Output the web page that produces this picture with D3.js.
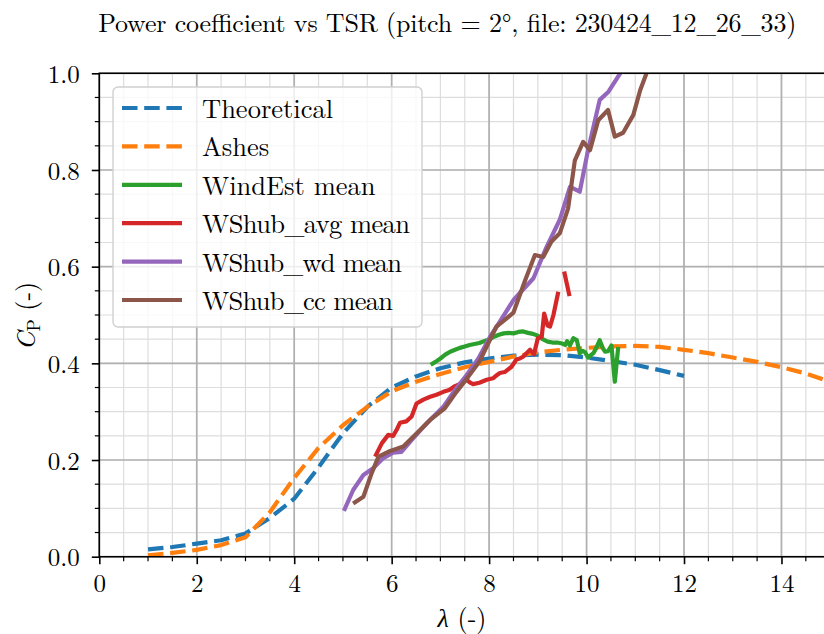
<!DOCTYPE html>
<html>
<head>
<meta charset="utf-8">
<script src="https://cdn.jsdelivr.net/npm/d3@7"></script>
<style>
  body { margin: 0; background: #fff; }
</style>
</head>
<body>
<svg id="chart" width="824" height="634"></svg>
<script>
/* -------------------------------------------------------------------------- */
// data (lambda = TSR, cp = power coefficient)

const theoreticalX = [1, 1.5, 2, 2.5, 3, 3.5, 4, 4.5, 5, 5.5, 6, 6.5, 7, 7.5, 8, 8.5, 9, 9.5, 10, 10.5, 11, 11.5, 12];
const theoreticalY = [0.015, 0.02, 0.027, 0.034, 0.048, 0.08, 0.12, 0.185, 0.255, 0.31, 0.35, 0.373, 0.39, 0.402, 0.41, 0.416, 0.418, 0.417, 0.412, 0.405, 0.397, 0.386, 0.374];

const ashesX = [1, 1.5, 2, 2.5, 3, 3.5, 4, 4.5, 5, 5.5, 6, 6.5, 7, 7.5, 8, 8.5, 9, 9.5, 10, 10.5, 11, 11.5, 12, 12.5, 13, 13.5, 14, 14.5, 15];
const ashesY = [0.003, 0.008, 0.014, 0.024, 0.04, 0.092, 0.163, 0.225, 0.272, 0.31, 0.342, 0.362, 0.378, 0.392, 0.403, 0.414, 0.423, 0.428, 0.432, 0.435, 0.436, 0.434, 0.428, 0.421, 0.412, 0.403, 0.392, 0.379, 0.362];

const windEstX = [6.8, 6.9, 7.0, 7.1, 7.2, 7.3, 7.4, 7.5, 7.6, 7.7, 7.8, 7.9, 8.0, 8.1, 8.2, 8.3, 8.4, 8.5, 8.6, 8.7, 8.8, 8.9, 9.0, 9.1, 9.2, 9.3, 9.4, 9.5, 9.56, 9.6, 9.66, 9.73, 9.8, 9.86, 9.92, 9.97, 10.03, 10.1, 10.14, 10.2, 10.27, 10.33, 10.38, 10.44, 10.51, 10.58, 10.65];
const windEstY = [0.397, 0.403, 0.41, 0.418, 0.424, 0.428, 0.432, 0.435, 0.438, 0.44, 0.442, 0.446, 0.449, 0.455, 0.459, 0.462, 0.463, 0.462, 0.465, 0.466, 0.463, 0.461, 0.457, 0.45, 0.445, 0.443, 0.443, 0.441, 0.438, 0.446, 0.437, 0.452, 0.448, 0.421, 0.426, 0.423, 0.412, 0.418, 0.421, 0.432, 0.448, 0.432, 0.424, 0.425, 0.437, 0.362, 0.434];

const wsAvgX = [5.66, 5.8, 5.93, 6.03, 6.1, 6.17, 6.3, 6.41, 6.51, 6.65, 6.79, 6.92, 7.06, 7.18, 7.3, 7.44, 7.54, 7.61, 7.67, 7.8, 7.95, 8.08, 8.15, 8.22, 8.32, 8.46, 8.56, 8.63, 8.7, 8.84, 8.92, 9.0, 9.08, 9.13, 9.2, 9.25, 9.32, 9.42, 9.48, 9.54, 9.65];
const wsAvgY = [0.207, 0.235, 0.252, 0.25, 0.262, 0.277, 0.28, 0.29, 0.317, 0.325, 0.331, 0.335, 0.341, 0.345, 0.353, 0.359, 0.366, 0.36, 0.357, 0.36, 0.366, 0.369, 0.375, 0.38, 0.382, 0.393, 0.408, 0.41, 0.414, 0.428, 0.419, 0.452, 0.455, 0.503, 0.478, 0.476, 0.5, 0.548, null, 0.59, 0.539];

const wsWdX = [5.02, 5.21, 5.42, 5.62, 5.83, 6.03, 6.2, 6.44, 6.72, 7.06, 7.3, 7.54, 7.78, 8.02, 8.22, 8.5, 8.91, 9.18, 9.45, 9.66, 9.86, 10.03, 10.27, 10.45, 10.69, 10.8];
const wsWdY = [0.095, 0.138, 0.169, 0.183, 0.204, 0.215, 0.217, 0.245, 0.276, 0.31, 0.345, 0.376, 0.41, 0.455, 0.486, 0.531, 0.576, 0.641, 0.697, 0.765, 0.755, 0.841, 0.945, 0.962, 1.0, 1.03];

const wsCcX = [5.21, 5.42, 5.59, 5.73, 5.93, 6.24, 6.51, 6.79, 7.09, 7.33, 7.57, 7.81, 7.98, 8.15, 8.36, 8.5, 8.74, 8.94, 9.11, 9.28, 9.45, 9.62, 9.76, 9.93, 10.07, 10.24, 10.44, 10.58, 10.75, 10.96, 11.1, 11.23, 11.3];
const wsCcY = [0.11, 0.124, 0.173, 0.207, 0.217, 0.228, 0.255, 0.283, 0.307, 0.341, 0.372, 0.405, 0.441, 0.476, 0.493, 0.505, 0.572, 0.624, 0.62, 0.652, 0.669, 0.72, 0.82, 0.858, 0.841, 0.903, 0.924, 0.869, 0.877, 0.914, 0.965, 1.0, 1.02];

const seriesNames = ['Theoretical', 'Ashes', 'WindEst mean', 'WShub_avg mean', 'WShub_wd mean', 'WShub_cc mean'];
const seriesColors = ['#1f77b4', '#ff7f0e', '#2ca02c', '#d62728', '#9467bd', '#8c564b'];
const seriesDashed = [true, true, false, false, false, false];

const xTicks = [0, 2, 4, 6, 8, 10, 12, 14];
const yTicks = [0.0, 0.2, 0.4, 0.6, 0.8, 1.0];

/* -------------------------------------------------------------------------- */
const FONT = '"Latin Modern Roman", "Liberation Serif", serif';

let svg = d3.select('#chart');

let margin = {left: 99.3, top: 73.3, bottom: 556.7};
let x = d3.scaleLinear().domain([0, 15]).range([margin.left, 830.2]);
let y = d3.scaleLinear().domain([0, 1]).range([margin.bottom, margin.top]);

let plotW = x(15) - x(0),
    plotH = y(0) - y(1);

function zip(xs, ys) {
  return xs.map((v, i) => ({x: v, y: ys[i]}));
}

let series = [
  zip(theoreticalX, theoreticalY),
  zip(ashesX, ashesY),
  zip(windEstX, windEstY),
  zip(wsAvgX, wsAvgY),
  zip(wsWdX, wsWdY),
  zip(wsCcX, wsCcY)
];

// the latex underscore is narrower than the font glyph, squeeze the spacing a bit
function fitWidth(sel, w) {
  let len = sel.node().getComputedTextLength();
  if (len > w) sel.attr('textLength', w).attr('lengthAdjust', 'spacing');
  return sel;
}

/* -------------------------------------------------------------------------- */
// grid

svg.append('defs').append('clipPath').attr('id', 'plotclip')
   .append('rect')
   .attr('x', x(0)).attr('y', y(1))
   .attr('width', plotW).attr('height', plotH);

let grid = svg.append('g');

grid.selectAll('.xminor').data(d3.range(0, 15.01, 0.5))
  .enter().append('line')
  .attr('x1', d => x(d)).attr('x2', d => x(d))
  .attr('y1', y(0)).attr('y2', y(1))
  .attr('stroke', '#dddddd').attr('stroke-width', 1.2);

grid.selectAll('.yminor').data(d3.range(0, 1.001, 0.05))
  .enter().append('line')
  .attr('x1', x(0)).attr('x2', x(15))
  .attr('y1', d => y(d)).attr('y2', d => y(d))
  .attr('stroke', '#dddddd').attr('stroke-width', 1.2);

grid.selectAll('.xmajor').data(xTicks)
  .enter().append('line')
  .attr('x1', d => x(d)).attr('x2', d => x(d))
  .attr('y1', y(0)).attr('y2', y(1))
  .attr('stroke', '#b0b0b0').attr('stroke-width', 1.7);

grid.selectAll('.ymajor').data(yTicks)
  .enter().append('line')
  .attr('x1', x(0)).attr('x2', x(15))
  .attr('y1', d => y(d)).attr('y2', d => y(d))
  .attr('stroke', '#b0b0b0').attr('stroke-width', 1.7);

/* -------------------------------------------------------------------------- */
// curves

let line = d3.line()
  .defined(d => d.y != null)
  .x(d => x(d.x))
  .y(d => y(d.y));

let curves = svg.append('g').attr('clip-path', 'url(#plotclip)');

series.forEach(function (s, i) {
  curves.append('path')
    .datum(s)
    .attr('d', line)
    .attr('fill', 'none')
    .attr('stroke', seriesColors[i])
    .attr('stroke-width', 4.2)
    .attr('stroke-linejoin', 'round')
    .attr('stroke-dasharray', seriesDashed[i] ? '15.5,6.7' : null);
});

/* -------------------------------------------------------------------------- */
// axes

let xAxis = d3.axisBottom(x).tickValues(xTicks).tickSize(7.5).tickPadding(10)
              .tickFormat(d3.format('d'));
let yAxis = d3.axisLeft(y).tickValues(yTicks).tickSize(7.5).tickPadding(12)
              .tickFormat(d3.format('.1f'));

let gx = svg.append('g').attr('transform', `translate(0,${y(0)})`).call(xAxis);
let gy = svg.append('g').attr('transform', `translate(${x(0)},0)`).call(yAxis);

[gx, gy].forEach(function (g) {
  g.attr('font-family', FONT).attr('font-size', 25);
  g.select('.domain').remove();
  g.selectAll('line').attr('stroke', '#000').attr('stroke-width', 1.6);
  g.selectAll('text').attr('fill', '#000');
});
gy.selectAll('text').attr('dy', '0.37em');

// minor ticks
svg.append('g').selectAll('line').data(d3.range(0.5, 15, 0.5).filter(d => d % 2 != 0))
  .enter().append('line')
  .attr('x1', d => x(d)).attr('x2', d => x(d))
  .attr('y1', y(0)).attr('y2', y(0) + 4.5)
  .attr('stroke', '#000').attr('stroke-width', 1.2);

svg.append('g').selectAll('line').data(d3.range(0.05, 1, 0.05).filter((d, i) => (i + 1) % 4 != 0))
  .enter().append('line')
  .attr('x1', x(0) - 4.5).attr('x2', x(0))
  .attr('y1', d => y(d)).attr('y2', d => y(d))
  .attr('stroke', '#000').attr('stroke-width', 1.2);

// spines
svg.append('path')
  .attr('d', `M${x(15)},${y(1)}H${x(0)}V${y(0)}H${x(15)}V${y(1)}`)
  .attr('fill', 'none').attr('stroke', '#000').attr('stroke-width', 1.6);

/* -------------------------------------------------------------------------- */
// labels

let title = svg.append('text')
  .attr('x', 98.3).attr('y', 32)
  .attr('font-family', FONT).attr('font-size', 26)
  .text('Power coefficient vs TSR (pitch = 2°, file: 230424_12_26_33)');
fitWidth(title, 698);

svg.append('text')
  .attr('x', 462).attr('y', 627)
  .attr('text-anchor', 'middle')
  .attr('font-family', FONT).attr('font-size', 26)
  .html('<tspan font-style="italic">λ</tspan> (-)');

svg.append('text')
  .attr('transform', 'translate(35,316) rotate(-90)')
  .attr('text-anchor', 'middle')
  .attr('font-family', FONT).attr('font-size', 26)
  .html('<tspan font-style="italic">C</tspan><tspan dy="5" font-size="18">P</tspan><tspan dy="-5"> (-)</tspan>');

/* -------------------------------------------------------------------------- */
// legend

let legendWidths = [133, 84, 176, 208, 200, 191];

let legend = svg.append('g');

legend.append('rect')
  .attr('x', 113).attr('y', 87)
  .attr('width', 309).attr('height', 240)
  .attr('rx', 5)
  .attr('fill', '#fff').attr('fill-opacity', 0.8)
  .attr('stroke', '#d0d0d0').attr('stroke-width', 1.4);

seriesNames.forEach(function (name, i) {
  let ly = 108 + i * 38.4;
  legend.append('line')
    .attr('x1', 122).attr('x2', 182)
    .attr('y1', ly).attr('y2', ly)
    .attr('stroke', seriesColors[i])
    .attr('stroke-width', 4.2)
    .attr('stroke-dasharray', seriesDashed[i] ? '15.5,6.7' : null);
  let t = legend.append('text')
    .attr('x', 202).attr('y', ly + 10)
    .attr('font-family', FONT).attr('font-size', 26.5)
    .text(name);
  if (name.includes('_')) fitWidth(t, legendWidths[i]);
});
</script>
</body>
</html>
